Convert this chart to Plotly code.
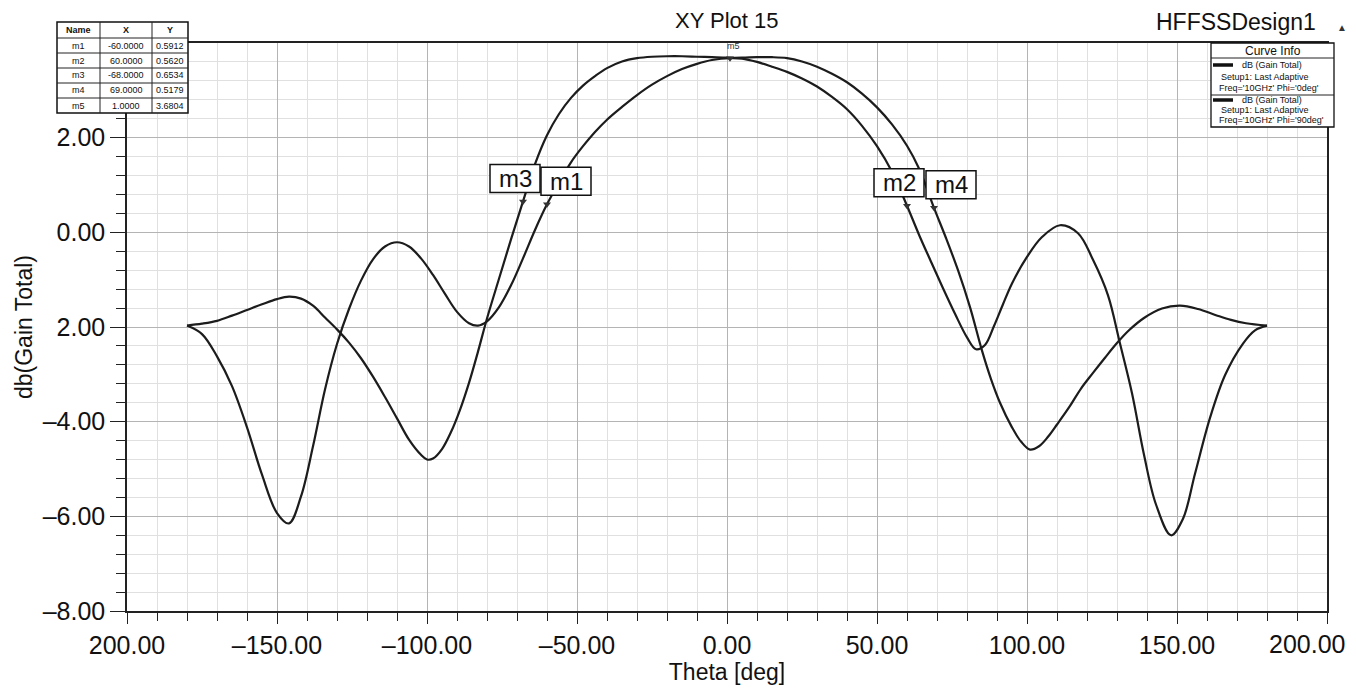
import plotly.graph_objects as go

# ---------------- data ----------------
# Phi = 0deg cut (narrower main beam, markers m1/m2)
theta_phi0 = [-180, -175, -170, -165, -160, -155, -150, -146, -142, -138, -134, -130,
              -126, -122, -118, -114, -110, -106, -102, -98, -94, -90, -86, -83, -80,
              -76, -72, -68, -64, -60, -56, -52, -48, -44, -40, -35, -30, -25, -20,
              -15, -10, -5, 1, 5, 10, 15, 20, 25, 30, 35, 40, 45, 50, 55, 60, 64, 68,
              72, 76, 80, 83, 86, 89, 92, 95, 100, 105, 111, 117, 122, 127, 131, 135,
              139, 143, 148, 152, 156, 161, 166, 172, 176, 180]
gain_phi0 = [-1.97, -2.15, -2.62, -3.25, -4.12, -5.12, -5.93, -6.15, -5.58, -4.52, -3.32,
             -2.36, -1.62, -1.02, -0.57, -0.30, -0.21, -0.30, -0.55, -0.90, -1.30, -1.68,
             -1.92, -1.97, -1.88, -1.58, -1.12, -0.55, 0.05, 0.5912, 1.05, 1.48, 1.82,
             2.12, 2.38, 2.65, 2.90, 3.12, 3.30, 3.45, 3.56, 3.64, 3.6804, 3.67, 3.60,
             3.50, 3.39, 3.25, 3.08, 2.86, 2.60, 2.25, 1.82, 1.28, 0.562, -0.05, -0.62,
             -1.18, -1.72, -2.22, -2.47, -2.38, -1.98, -1.52, -1.08, -0.52, -0.10, 0.15,
             -0.02, -0.58, -1.33, -2.35, -3.40, -4.70, -5.75, -6.40, -6.05, -5.10, -3.92,
             -3.02, -2.35, -2.07, -1.97]

# Phi = 90deg cut (wider main beam, markers m3/m4)
theta_phi90 = [-180, -175, -170, -165, -160, -155, -150, -146, -142, -138, -134, -130,
               -126, -122, -118, -114, -110, -106, -102, -100, -98, -95, -92, -89, -86,
               -83, -80, -76, -72, -68, -64, -60, -56, -52, -48, -44, -40, -35, -30,
               -25, -20, -15, -10, -5, 0, 5, 10, 15, 20, 25, 30, 35, 40, 45, 50, 55, 60,
               64, 69, 73, 77, 81, 85, 88, 91, 95, 98, 101, 104, 107, 110, 114, 118, 122,
               126, 130, 134, 139, 145, 151, 157, 163, 168, 173, 180]
gain_phi90 = [-1.97, -1.93, -1.87, -1.76, -1.64, -1.52, -1.41, -1.36, -1.40, -1.55, -1.80,
              -2.05, -2.33, -2.66, -3.05, -3.48, -3.93, -4.38, -4.70, -4.80, -4.78, -4.58,
              -4.22, -3.75, -3.18, -2.52, -1.82, -0.98, -0.15, 0.6534, 1.44, 2.05, 2.50,
              2.84, 3.10, 3.30, 3.47, 3.61, 3.68, 3.71, 3.72, 3.72, 3.71, 3.70, 3.69, 3.69,
              3.70, 3.70, 3.68, 3.61, 3.50, 3.35, 3.17, 2.93, 2.64, 2.28, 1.83, 1.35,
              0.5179, -0.12, -0.80, -1.58, -2.50, -3.10, -3.60, -4.12, -4.42, -4.59, -4.52,
              -4.32, -4.06, -3.70, -3.30, -2.97, -2.65, -2.34, -2.07, -1.81, -1.61, -1.55,
              -1.62, -1.75, -1.85, -1.92, -1.97]

# Markers
marker_names = ["m1", "m2", "m3", "m4", "m5"]
marker_x = [-60.0, 60.0, -68.0, 69.0, 1.0]
marker_y = [0.5912, 0.5620, 0.6534, 0.5179, 3.6804]

# Axis tick labels
x_tickvals = [-200, -150, -100, -50, 0, 50, 100, 150, 200]
x_ticktext = ["200.00", "\u2013150.00", "\u2013100.00", "\u201350.00", "0.00",
              "50.00", "100.00", "150.00", "200.00"]
y_tickvals = [-8, -6, -4, -2, 0, 2]
y_ticktext = ["\u20138.00", "\u20136.00", "\u20134.00", "2.00", "0.00", "2.00"]

legend_entries = [
    ("dB (Gain Total)", "Setup1: Last Adaptive", "Freq='10GHz' Phi='0deg'"),
    ("dB (Gain Total)", "Setup1: Last Adaptive", "Freq='10GHz' Phi='90deg'"),
]

# ---------------- layout geometry (pixels) ----------------
W, H = 1356, 694
ML, MR, MT, MB = 127, 29, 43, 83
PW, PH = W - ML - MR, H - MT - MB
FONT = "Liberation Sans, Arial, sans-serif"
INK = "#1c1c1c"


def fx(x):
    return (x - ML) / PW


def fy(y):
    return (H - MB - y) / PH


fig = go.Figure()

for th, g in ((theta_phi0, gain_phi0), (theta_phi90, gain_phi90)):
    fig.add_trace(go.Scatter(
        x=th, y=g, mode="lines",
        line=dict(color=INK, width=2.2, shape="spline", smoothing=1.0),
        showlegend=False, hoverinfo="skip"))

fig.add_trace(go.Scatter(
    x=marker_x, y=marker_y, mode="markers",
    marker=dict(symbol="triangle-down", size=7, color="#333333"),
    showlegend=False, hoverinfo="skip"))

shapes = []
annotations = []

# marker label boxes (m1..m4), offsets in pixels from the marker point
box_offsets = {"m1": (-6, 38), "m2": (-33, 11), "m3": (-33, 11), "m4": (-8, 36)}
for name, mx, my in zip(marker_names, marker_x, marker_y):
    if name in box_offsets:
        x0, x1 = box_offsets[name]
        shapes.append(dict(type="rect", xref="x", yref="y", xsizemode="pixel",
                           ysizemode="pixel", xanchor=mx, yanchor=my,
                           x0=x0, x1=x1 + 6, y0=9, y1=37,
                           line=dict(color="#111", width=1.5), fillcolor="white",
                           layer="above"))
        annotations.append(dict(x=mx, y=my, xref="x", yref="y", text=name,
                                showarrow=False, xanchor="center", yanchor="middle",
                                xshift=(x0 + x1 + 6) / 2, yshift=23,
                                font=dict(family=FONT, size=24, color="#111")))
    else:
        annotations.append(dict(x=mx, y=my, xref="x", yref="y", text=name,
                                showarrow=False, xanchor="center", yanchor="bottom",
                                xshift=3, yshift=5,
                                font=dict(family=FONT, size=9, color="#333")))

# marker table (top-left)
cols = [57, 100, 152, 188]
rows = [22, 38, 53, 68, 83, 98, 113]
shapes.append(dict(type="rect", xref="paper", yref="paper",
                   x0=fx(cols[0]), x1=fx(cols[-1]), y0=fy(rows[-1]), y1=fy(rows[0]),
                   line=dict(color="#111", width=1.5), fillcolor="white", layer="above"))
for c in cols[1:-1]:
    shapes.append(dict(type="line", xref="paper", yref="paper", x0=fx(c), x1=fx(c),
                       y0=fy(rows[-1]), y1=fy(rows[0]),
                       line=dict(color="#222", width=1), layer="above"))
for r in rows[1:-1]:
    shapes.append(dict(type="line", xref="paper", yref="paper", x0=fx(cols[0]),
                       x1=fx(cols[-1]), y0=fy(r), y1=fy(r),
                       line=dict(color="#222", width=1), layer="above"))
table_rows = [("Name", "X", "Y")] + [
    (n, f"{x:.4f}", f"{y:.4f}") for n, x, y in zip(marker_names, marker_x, marker_y)]
for i, row in enumerate(table_rows):
    yc = (rows[i] + rows[i + 1]) / 2
    for j, cell in enumerate(row):
        xc = (cols[j] + cols[j + 1]) / 2
        annotations.append(dict(x=fx(xc), y=fy(yc), xref="paper", yref="paper",
                                text=("<b>%s</b>" % cell) if i == 0 else cell,
                                showarrow=False, xanchor="center", yanchor="middle",
                                font=dict(family=FONT, size=9, color="#111")))

# curve info box (top-right)
lx0, lx1 = 1211, 1334
lrows = [43, 58, 95, 127]
shapes.append(dict(type="rect", xref="paper", yref="paper", x0=fx(lx0), x1=fx(lx1),
                   y0=fy(lrows[-1]), y1=fy(lrows[0]),
                   line=dict(color="#111", width=1.3), fillcolor="white", layer="above"))
for r in lrows[1:-1]:
    shapes.append(dict(type="line", xref="paper", yref="paper", x0=fx(lx0), x1=fx(lx1),
                       y0=fy(r), y1=fy(r), line=dict(color="#222", width=1),
                       layer="above"))
annotations.append(dict(x=fx((lx0 + lx1) / 2), y=fy(51), xref="paper", yref="paper",
                        text="Curve Info", showarrow=False, xanchor="center",
                        yanchor="middle", font=dict(family=FONT, size=12, color="#111")))
for k, (l1, l2, l3) in enumerate(legend_entries):
    top = lrows[1 + k]
    ys = [top + 7, top + 19, top + 30] if k == 0 else [top + 5, top + 15, top + 25]
    shapes.append(dict(type="line", xref="paper", yref="paper", x0=fx(1213),
                       x1=fx(1233), y0=fy(ys[0]), y1=fy(ys[0]),
                       line=dict(color="#111", width=3.5), layer="above"))
    for text, xl, yy in ((l1, 1240, ys[0]), (l2, 1219, ys[1]), (l3, 1217, ys[2])):
        annotations.append(dict(x=fx(xl), y=fy(yy), xref="paper", yref="paper",
                                text=text, showarrow=False, xanchor="left",
                                yanchor="middle",
                                font=dict(family=FONT, size=9, color="#111")))

# the right-most x tick label is pulled inside the page edge
annotations.append(dict(x=x_tickvals[-1], y=0, xref="x", yref="paper",
                        text=x_ticktext[-1], showarrow=False, xanchor="right",
                        yanchor="top", xshift=20, yshift=-17,
                        font=dict(family=FONT, size=25, color="#111")))

# titles
annotations.append(dict(x=0.5, y=fy(20), xref="paper", yref="paper", text="XY Plot 15",
                        showarrow=False, xanchor="center", yanchor="middle",
                        font=dict(family=FONT, size=22, color="#111")))
annotations.append(dict(x=fx(1318), y=fy(22), xref="paper", yref="paper",
                        text="HFFSSDesign1", showarrow=False, xanchor="right",
                        yanchor="middle", font=dict(family=FONT, size=23, color="#111")))
annotations.append(dict(x=fx(1342), y=fy(27), xref="paper", yref="paper", text="\u25b2",
                        showarrow=False, xanchor="center", yanchor="middle",
                        font=dict(family=FONT, size=10, color="#333")))

fig.update_layout(
    width=W, height=H,
    margin=dict(l=ML, r=MR, t=MT, b=MB),
    paper_bgcolor="white", plot_bgcolor="white",
    font=dict(family=FONT, color="#111"),
    shapes=shapes, annotations=annotations,
    xaxis=dict(range=[-200, 200], tickmode="array", tickvals=x_tickvals,
               ticktext=x_ticktext[:-1] + [""], ticks="outside", ticklen=11,
               tickwidth=1.3,
               tickcolor="#222", tickfont=dict(size=25, family=FONT, color="#111"),
               showline=True, linecolor="#222", linewidth=1.5, mirror=True,
               showgrid=True, gridcolor="#b4b4b4", gridwidth=1, zeroline=False,
               minor=dict(tick0=0, dtick=10, ticks="outside", ticklen=8,
                          tickcolor="#222", showgrid=True, gridcolor="#e0e0e0",
                          gridwidth=1),
               title=dict(text="Theta [deg]", standoff=6,
                          font=dict(size=23, family=FONT, color="#111"))),
    yaxis=dict(range=[-8, 4], tickmode="array", tickvals=y_tickvals,
               ticktext=y_ticktext, ticks="outside", ticklen=15, tickwidth=1.3,
               tickcolor="#222", tickfont=dict(size=25, family=FONT, color="#111"),
               showline=True, linecolor="#222", linewidth=1.5, mirror=True,
               showgrid=True, gridcolor="#b4b4b4", gridwidth=1, zeroline=False,
               minor=dict(tick0=0, dtick=0.4, ticks="outside", ticklen=9,
                          tickcolor="#222", showgrid=True, gridcolor="#e0e0e0",
                          gridwidth=1),
               title=dict(text="db(Gain Total)", standoff=4,
                          font=dict(size=23, family=FONT, color="#111"))),
)

fig.write_html("out.html")
